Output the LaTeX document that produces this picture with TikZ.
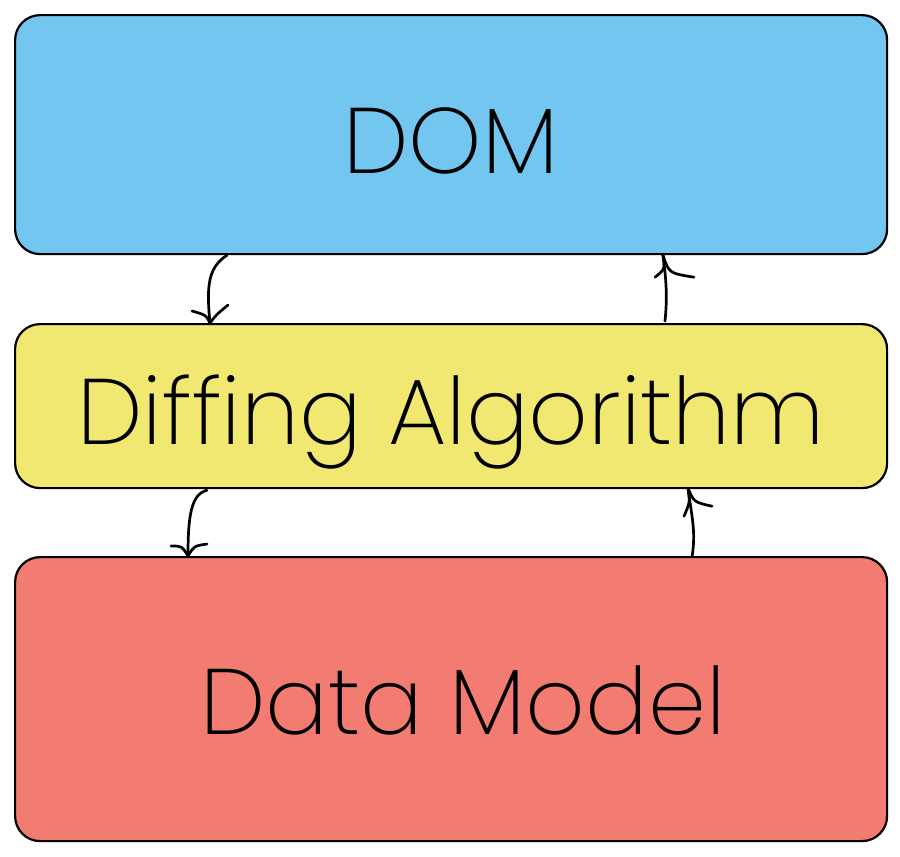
\documentclass[tikz,border=0pt]{standalone}
\usepackage{fontspec}
\setmainfont{Poppins ExtraLight}
\usetikzlibrary{calc}
\definecolor{domblue}{HTML}{72C6F0}
\definecolor{diffyellow}{HTML}{F0E870}
\definecolor{datared}{HTML}{F37C72}
\newcommand{\basetext}[2]{\raisebox{#1}[0pt][0pt]{#2}}
\begin{document}
\begin{tikzpicture}[x=1pt,y=-1pt,
  layerbox/.style={draw=black, line width=2.2pt, rounded corners=25pt, anchor=north west, inner sep=0pt, font=\fontsize{93}{96}\selectfont},
  sketch/.style={draw=black, line width=2.7pt, line cap=round, line join=round}]
\useasboundingbox (0,0) rectangle (900,857);
\node[layerbox, fill=domblue, minimum width=872pt, minimum height=239pt] (dom) at (14,14) {\basetext{-39pt}{DOM}};
\node[layerbox, fill=diffyellow, minimum width=872pt, minimum height=164pt] (diff) at (14,323) {\basetext{-38pt}{Diffing Algorithm}};
\node[layerbox, fill=datared, minimum width=872pt, minimum height=284pt] (data) at (14,556) {\hspace*{24pt}\basetext{-35pt}{Data Model}};
% arrow DOM -> Diffing
\coordinate (a1s) at ($(dom.south west)+(213,0)$);
\coordinate (a1e) at ($(diff.north west)+(196,0)$);
\draw[sketch] (a1s) .. controls ($(a1s)+(-18,12)$) and ($(a1e)+(-4,-40)$) .. (a1e);
\draw[sketch] (a1e) .. controls ($(a1e)+(-4,-8)$) .. ($(a1e)+(-18,-12)$);
\draw[sketch] (a1e) .. controls ($(a1e)+(6,-8)$) .. ($(a1e)+(18,-18)$);
% arrow Diffing -> DOM
\coordinate (a2s) at ($(diff.north west)+(651,-2)$);
\coordinate (a2e) at ($(dom.south west)+(649,0)$);
\draw[sketch] (a2s) .. controls ($(a2s)+(2,-20)$) and ($(a2e)+(4,30)$) .. (a2e);
\draw[sketch] (a2e) .. controls ($(a2e)+(2,14)$) .. ($(a2e)+(-8,22)$);
\draw[sketch] (a2e) .. controls ($(a2e)+(6,18)$) .. ($(a2e)+(31,22)$);
% arrow Diffing -> Data Model
\coordinate (a3s) at ($(diff.south west)+(193,1)$);
\coordinate (a3e) at ($(data.north west)+(174,0)$);
\draw[sketch] (a3s) .. controls ($(a3s)+(-16,4)$) and ($(a3e)+(0,-40)$) .. (a3e);
\draw[sketch] (a3e) .. controls ($(a3e)+(-6,-10)$) .. ($(a3e)+(-17,-10)$);
\draw[sketch] (a3e) .. controls ($(a3e)+(6,-10)$) .. ($(a3e)+(19,-12)$);
% arrow Data Model -> Diffing
\coordinate (a4s) at ($(data.north west)+(678,1)$);
\coordinate (a4e) at ($(diff.south west)+(674,-1)$);
\draw[sketch] (a4s) .. controls ($(a4s)+(4,-25)$) and ($(a4e)+(4,30)$) .. (a4e);
\draw[sketch] (a4e) .. controls ($(a4e)+(2,14)$) .. ($(a4e)+(-4,28)$);
\draw[sketch] (a4e) .. controls ($(a4e)+(6,14)$) .. ($(a4e)+(24,18)$);
\end{tikzpicture}
\end{document}
